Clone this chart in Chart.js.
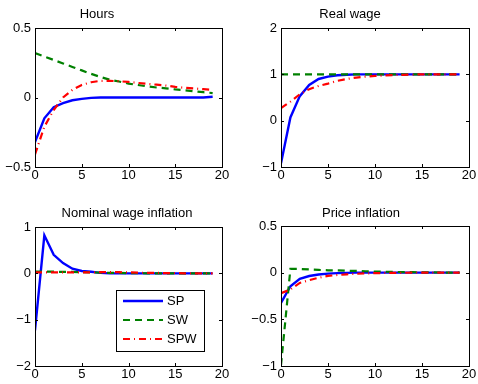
<!DOCTYPE html>
<html lang="en">
<head>
<meta charset="UTF-8">
<title>Impulse responses</title>
<style>
  body { margin: 0; background: #fff; }
  #wrap { position: relative; width: 478px; height: 384px; }
  canvas { position: absolute; }
</style>
</head>
<body>
<div id="wrap">
  <canvas id="hours" width="239" height="190" style="left:0;top:0"></canvas>
  <canvas id="realWage" width="239" height="190" style="left:239px;top:0"></canvas>
  <canvas id="nomWage" width="239" height="194" style="left:0;top:190px"></canvas>
  <canvas id="priceInfl" width="239" height="194" style="left:239px;top:190px"></canvas>
</div>

<script src="https://cdn.jsdelivr.net/npm/chart.js@4.4.0/dist/chart.umd.min.js"></script>
<script>
// horizon (quarters)
const steps = [0,1,2,3,4,5,6,7,8,9,10,11,12,13,14,15,16,17,18,19];
const seriesNames = ['SP', 'SW', 'SPW'];

// Hours
const hoursSP  = [-0.32,-0.15,-0.07,-0.04,-0.02,-0.01,-0.003,0,0,0,0,0,0,0,0,0,0,0,0,0.005];
const hoursSW  = [0.32,0.295,0.27,0.245,0.22,0.195,0.17,0.148,0.128,0.115,0.1,0.09,0.08,0.072,0.066,0.058,0.052,0.045,0.038,0.032];
const hoursSPW = [-0.41,-0.21,-0.09,0,0.055,0.09,0.11,0.12,0.12,0.117,0.112,0.105,0.098,0.092,0.086,0.076,0.07,0.065,0.06,0.055];

// Real wage
const rwSP  = [-0.92,0.07,0.53,0.77,0.9,0.95,0.98,0.99,1,1,1,1,1,1,1,1,1,1,1,1];
const rwSW  = [1,1,1,1,1,1,1,1,1,1,1,1,1,1,1,1,1,1,1,1];
const rwSPW = [0.27,0.41,0.57,0.68,0.75,0.8,0.86,0.9,0.93,0.95,0.965,0.975,0.985,0.99,0.995,1,1,1,1,1];

// Nominal wage inflation
const nwSP  = [-1.23,0.82,0.4,0.22,0.1,0.05,0.035,0.01,0,0,0,0,0,0,0,0,0,0,0,0];
const nwSW  = [0.04,0.04,0.035,0.03,0.03,0.025,0.02,0.015,0.01,0.008,0.005,0.003,0,0,0,0,0,0,0,0];
const nwSPW = [0.02,0.02,0.02,0.02,0.02,0.02,0.02,0.025,0.025,0.025,0.02,0.015,0.01,0.01,0.005,0.005,0,0,0,0];

// Price inflation
const piSP  = [-0.325,-0.145,-0.065,-0.036,-0.02,-0.01,-0.005,-0.002,0,0,0,0,0,0,0,0,0,0,0,0];
const piSW  = [-0.99,0.04,0.04,0.035,0.03,0.025,0.025,0.02,0.02,0.015,0.012,0.01,0.008,0.006,0.005,0.004,0.003,0.002,0.001,0];
const piSPW = [-0.22,-0.18,-0.11,-0.08,-0.055,-0.035,-0.025,-0.018,-0.012,-0.008,-0.005,-0.003,-0.002,-0.001,0,0,0,0,0,0];

const FONT = '"Liberation Sans", Arial, Helvetica, sans-serif';
const lineStyles = [
  { color: '#0000ff', dash: [], width: 2.4 },
  { color: '#008000', dash: [7, 5], width: 2.2 },
  { color: '#ff0000', dash: [7, 4, 1, 4], width: 2.2 }
];

// box round the axes + inward ticks (matlab look), title, optional legend
const matlabPlugin = {
  id: 'matlab',
  afterDatasetsDraw(chart, args, opts) {
    const ctx = chart.ctx, a = chart.chartArea;
    const xs = chart.scales.x, ys = chart.scales.y;
    ctx.save();
    ctx.strokeStyle = '#000';
    ctx.lineWidth = 1;
    ctx.setLineDash([]);
    ctx.strokeRect(Math.round(a.left) + 0.5, Math.round(a.top) + 0.5,
                   Math.round(a.right - a.left), Math.round(a.bottom - a.top));
    ctx.beginPath();
    xs.ticks.forEach(t => {
      const px = Math.round(xs.getPixelForValue(t.value)) + 0.5;
      ctx.moveTo(px, a.bottom); ctx.lineTo(px, a.bottom - 3);
      ctx.moveTo(px, a.top); ctx.lineTo(px, a.top + 3);
    });
    ys.ticks.forEach(t => {
      const py = Math.round(ys.getPixelForValue(t.value)) + 0.5;
      ctx.moveTo(a.left, py); ctx.lineTo(a.left + 3, py);
      ctx.moveTo(a.right, py); ctx.lineTo(a.right - 3, py);
    });
    ctx.stroke();

    ctx.fillStyle = '#000';
    ctx.font = '13px ' + FONT;
    ctx.textAlign = 'center';
    ctx.textBaseline = 'middle';
    ctx.fillText(opts.title, opts.titleX, opts.titleY);

    if (opts.legend) {
      const L = opts.legend;
      ctx.fillStyle = '#fff';
      ctx.fillRect(L.x, L.y, L.w, L.h);
      ctx.strokeStyle = '#000';
      ctx.lineWidth = 1;
      ctx.strokeRect(L.x + 0.5, L.y + 0.5, L.w, L.h);
      seriesNames.forEach((name, i) => {
        const s = lineStyles[i];
        const yy = L.y + 11 + i * 19;
        ctx.strokeStyle = s.color;
        ctx.lineWidth = s.width;
        ctx.setLineDash(s.dash);
        ctx.beginPath();
        ctx.moveTo(L.x + 7, yy); ctx.lineTo(L.x + 47, yy);
        ctx.stroke();
        ctx.setLineDash([]);
        ctx.fillStyle = '#000';
        ctx.textAlign = 'left';
        ctx.fillText(name, L.x + 51, yy);
      });
    }
    ctx.restore();
  }
};

const minus = v => String(v).replace('-', '\u2212');

function makePanel(id, series, yMin, yMax, yStep, pad, yAxisW, xAxisH, title) {
  return new Chart(document.getElementById(id), {
    type: 'line',
    data: {
      datasets: series.map((vals, i) => ({
        label: seriesNames[i],
        data: steps.map((s, k) => ({ x: s, y: vals[k] })),
        borderColor: lineStyles[i].color,
        borderDash: lineStyles[i].dash,
        borderWidth: lineStyles[i].width,
        pointRadius: 0,
        tension: 0,
        fill: false,
        order: 2 - i
      }))
    },
    options: {
      responsive: false,
      animation: false,
      events: [],
      layout: { padding: pad },
      plugins: {
        legend: { display: false },
        tooltip: { enabled: false },
        matlab: title
      },
      scales: {
        x: {
          type: 'linear', min: 0, max: 20,
          grid: { display: false, drawTicks: false }, border: { display: false },
          afterFit: s => { s.height = xAxisH; },
          ticks: { stepSize: 5, padding: 1, color: '#000', font: { family: FONT, size: 13 }, maxRotation: 0 }
        },
        y: {
          min: yMin, max: yMax,
          grid: { display: false, drawTicks: false }, border: { display: false },
          afterFit: s => { s.width = yAxisW; },
          ticks: { stepSize: yStep, padding: 4, color: '#000', font: { family: FONT, size: 13 }, callback: minus }
        }
      }
    },
    plugins: [matlabPlugin]
  });
}

makePanel('hours', [hoursSP, hoursSW, hoursSPW], -0.5, 0.5, 0.5,
  { top: 28, right: 17, left: 0, bottom: 0 }, 35, 23,
  { title: 'Hours', titleX: 97, titleY: 14 });

makePanel('realWage', [rwSP, rwSW, rwSPW], -1, 2, 1,
  { top: 28, right: 9, left: 0, bottom: 0 }, 42, 23,
  { title: 'Real wage', titleX: 111, titleY: 14 });

makePanel('nomWage', [nwSP, nwSW, nwSPW], -2, 1, 1,
  { top: 37, right: 17, left: 0, bottom: 0 }, 35, 18,
  { title: 'Nominal wage inflation', titleX: 127, titleY: 23,
    legend: { x: 116, y: 100, w: 88, h: 61 } });

makePanel('priceInfl', [piSP, piSW, piSPW], -1, 0.5, 0.5,
  { top: 36, right: 9, left: 0, bottom: 0 }, 42, 18,
  { title: 'Price inflation', titleX: 122, titleY: 23 });
</script>
</body>
</html>
